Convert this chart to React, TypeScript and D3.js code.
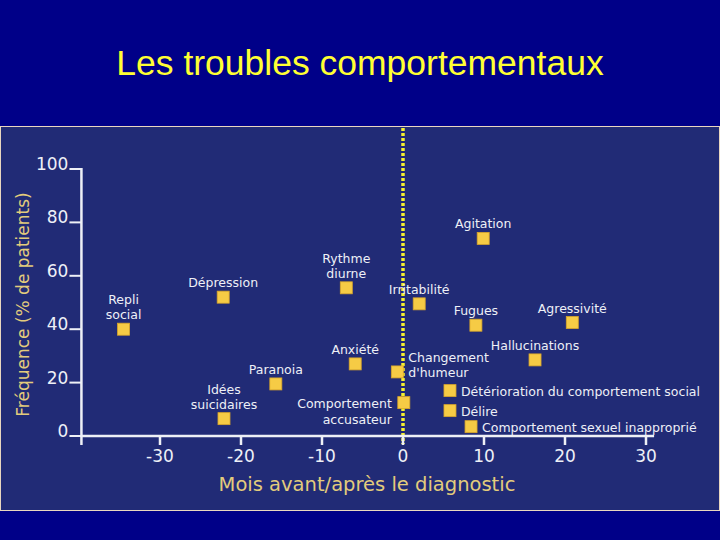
import React from "react";
import * as d3 from "d3";

// troubles observés : mois par rapport au diagnostic, % de patients
const symptoms = [
  "Repli social",
  "Dépression",
  "Rythme diurne",
  "Irritabilité",
  "Agitation",
  "Fugues",
  "Agressivité",
  "Hallucinations",
  "Anxiété",
  "Paranoia",
  "Idées suicidaires",
  "Changement d'humeur",
  "Comportement accusateur",
  "Détérioration du comportement social",
  "Délire",
  "Comportement sexuel inapproprié",
];
const months = [-34.5, -22.2, -7.0, 2.0, 9.9, 9.0, 20.9, 16.3, -5.9, -15.7, -22.1, -0.7, 0.1, 5.8, 5.8, 8.4];
const frequency = [40, 52, 55.5, 49.5, 74, 41.5, 42.5, 28.5, 27, 19.5, 6.5, 24, 12.5, 17, 9.5, 3.5];

const xTicks = [-30, -20, -10, 0, 10, 20, 30];
const yTicks = [0, 20, 40, 60, 80, 100];

// how each label is split and where it sits around its square
const labelLines: Record<string, string[]> = {
  "Repli social": ["Repli", "social"],
  "Rythme diurne": ["Rythme", "diurne"],
  "Idées suicidaires": ["Idées", "suicidaires"],
  "Changement d'humeur": ["Changement", "d'humeur"],
  "Comportement accusateur": ["Comportement", "accusateur"],
};
const labelSide: Record<string, "above" | "right" | "left"> = {
  "Changement d'humeur": "right",
  "Comportement accusateur": "left",
  "Détérioration du comportement social": "right",
  "Délire": "right",
  "Comportement sexuel inapproprié": "right",
};

const W = 720;
const H = 540;
const chartFont = "'DejaVu Sans', sans-serif";
const textColor = "#eef0f6";
const titleColor = "#e3cc7c";

export default function App() {
  const x = d3.scaleLinear().domain([-30, 30]).range([160, 646]);
  const y = d3.scaleLinear().domain([0, 100]).range([436, 169]);
  const x0 = x(-39.7);
  const xEnd = x(31);
  const sq = 12;

  const points = symptoms.map((name, i) => ({
    name,
    cx: x(months[i]),
    cy: y(frequency[i]),
    lines: labelLines[name] || [name],
    side: labelSide[name] || "above",
  }));

  return (
    <svg
      width={W}
      height={H}
      viewBox={`0 0 ${W} ${H}`}
      style={{ position: "absolute", left: 0, top: 0, display: "block" }}
    >
      <rect x={0} y={0} width={W} height={H} fill="#000088" />
      <text
        x={360}
        y={75}
        textAnchor="middle"
        fill="#ffff33"
        fontFamily="'Liberation Sans', Arial, sans-serif"
        fontSize={35.5}
      >
        Les troubles comportementaux
      </text>

      {/* scanned figure panel */}
      <rect x={0.5} y={126.5} width={W - 1} height={384} fill="#212b76" stroke="#e9d6c0" strokeWidth={1} />

      {/* dashed diagnosis line */}
      <line
        x1={x(0)}
        x2={x(0)}
        y1={128}
        y2={444}
        stroke="#f4f030"
        strokeWidth={3.5}
        strokeDasharray="3 2"
      />

      {/* y axis */}
      <line x1={x0} x2={x0} y1={y(100) - 1} y2={445} stroke={textColor} strokeWidth={2.5} />
      {yTicks.map((t) => (
        <g key={"y" + t}>
          <line x1={x0 - 12} x2={x0} y1={y(t)} y2={y(t)} stroke={textColor} strokeWidth={2} />
          <text
            x={x0 - 13}
            y={y(t) + 1}
            textAnchor="end"
            fill={textColor}
            fontFamily={chartFont}
            fontSize={17}
          >
            {t}
          </text>
        </g>
      ))}

      {/* x axis */}
      <line x1={x0} x2={xEnd} y1={y(0)} y2={y(0)} stroke={textColor} strokeWidth={2.5} />
      {xTicks.map((t) => (
        <g key={"x" + t}>
          <line x1={x(t)} x2={x(t)} y1={y(0)} y2={y(0) + 9} stroke={textColor} strokeWidth={2.5} />
          <text
            x={x(t)}
            y={462}
            textAnchor="middle"
            fill={textColor}
            fontFamily={chartFont}
            fontSize={17}
          >
            {t}
          </text>
        </g>
      ))}

      <text
        x={367}
        y={491}
        textAnchor="middle"
        fill={titleColor}
        fontFamily={chartFont}
        fontSize={19.5}
      >
        Mois avant/après le diagnostic
      </text>
      <text
        transform={`translate(29,${(y(100) + y(0)) / 2 + 2}) rotate(-90)`}
        textAnchor="middle"
        fill={titleColor}
        fontFamily={chartFont}
        fontSize={17}
      >
        Fréquence (% de patients)
      </text>

      {points.map((p) => (
        <g key={p.name}>
          <rect
            x={p.cx - sq / 2}
            y={p.cy - sq / 2}
            width={sq}
            height={sq}
            fill="#f6cb45"
            stroke="#d9a62a"
            strokeWidth={0.8}
          />
          {p.lines.map((line, j) => {
            let tx = p.cx;
            let ty = p.cy - 10 - (p.lines.length - 1 - j) * 15;
            let anchor = "middle";
            if (p.side === "right") {
              tx = p.cx + 11;
              ty = p.cy + 5 - (p.lines.length - 1 - j) * 15;
              anchor = "start";
            } else if (p.side === "left") {
              tx = p.cx - 12;
              ty = p.cy + 5 + j * 16;
              anchor = "end";
            }
            return (
              <text
                key={j}
                x={tx}
                y={ty}
                textAnchor={anchor}
                fill={textColor}
                fontFamily={chartFont}
                fontSize={12.5}
              >
                {line}
              </text>
            );
          })}
        </g>
      ))}
    </svg>
  );
}
